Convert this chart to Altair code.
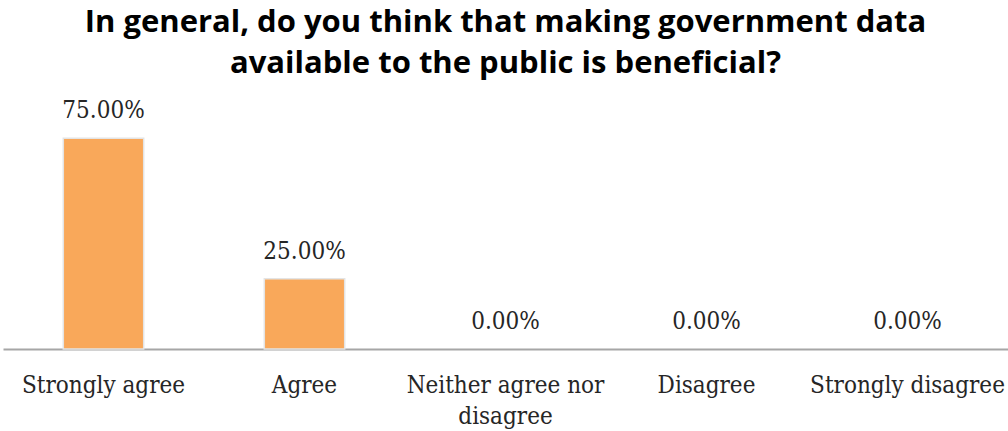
import altair as alt
import pandas as pd

categories = ["Strongly agree", "Agree", "Neither agree nor disagree", "Disagree", "Strongly disagree"]
values = [75.0, 25.0, 0.0, 0.0, 0.0]
labels = ["75.00%", "25.00%", "0.00%", "0.00%", "0.00%"]

df = pd.DataFrame({"cat": categories, "val": values, "lab": labels})

SERIF = "DejaVu Serif Condensed, DejaVu Serif"

x = alt.X("cat:N", sort=categories, title=None,
          scale=alt.Scale(paddingInner=0.6, paddingOuter=0.3),
          axis=alt.Axis(labelAngle=0, labelFont=SERIF, labelFontSize=24,
                        labelColor="#262626", ticks=False, domainColor="#a6a6a6",
                        domainWidth=2, labelPadding=24, labelLineHeight=31,
                        labelLimit=300,
                        labelExpr="datum.value == 'Neither agree nor disagree' ? ['Neither agree nor', 'disagree'] : datum.value"))
y = alt.Y("val:Q", scale=alt.Scale(domain=[0, 90]), axis=None)

bars = alt.Chart(df).mark_bar(color="#F9A85A", stroke="#e4e4e4", strokeWidth=1.5).encode(
    x=x, y=y,
    strokeOpacity=alt.condition("datum.val > 0", alt.value(1), alt.value(0)))
text = alt.Chart(df).mark_text(font=SERIF, fontSize=24, color="#262626",
                               baseline="bottom", dy=-15).encode(x=x, y=y, text="lab:N")

chart = (bars + text).properties(
    width=1005, height=253,
    title=alt.TitleParams(["In general, do you think that making government data",
                           "available to the public is beneficial?"],
                          font="Open Sans", fontSize=31, fontWeight="bold", color="#000000",
                          anchor="middle", lineHeight=41, offset=16),
    padding={"left": 3, "top": 96, "right": 0, "bottom": 82},
    autosize="none",
).configure(background="white").configure_view(stroke=None)

chart.save("out.html", embed_options={"renderer": "svg", "actions": False})
